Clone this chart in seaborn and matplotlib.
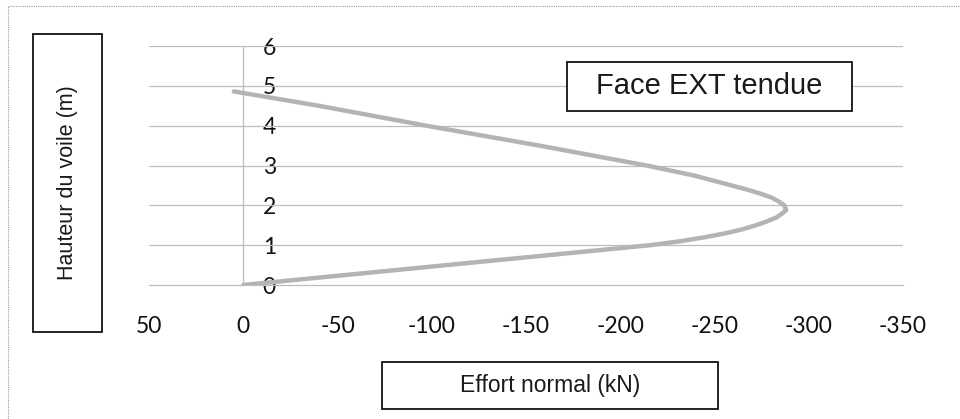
import matplotlib
matplotlib.use("Agg")
import matplotlib.pyplot as plt
from matplotlib.patches import Rectangle
import pandas as pd
import seaborn as sns

# Data (height in m, normal force in kN)

hauteur = [0.0, 0.25, 0.5, 0.75, 1.0, 1.1, 1.2, 1.3, 1.4, 1.5, 1.6, 1.7, 1.8,
           1.88, 2.0, 2.1, 2.2, 2.3, 2.4, 2.5, 2.75, 3.0, 3.5, 4.0, 4.5, 4.86]
effort = [0, -54, -108, -162, -216, -232, -245, -256, -265, -272, -278, -283,
          -286, -288, -287, -284, -280, -274, -267, -259, -239, -214, -157, -97,
          -40, 5]

x_ticks = [50, 0, -50, -100, -150, -200, -250, -300, -350]
y_ticks = [0, 1, 2, 3, 4, 5, 6]

legend_label = "Face EXT tendue"
x_label = "Effort normal (kN)"
y_label = "Hauteur du voile (m)"

sns.set_theme(style="white")

df = pd.DataFrame({"Effort": effort, "Hauteur": hauteur})

W, H = 960, 419
fig = plt.figure(figsize=(W / 100, H / 100), dpi=100)
ax = fig.add_axes([149 / W, 1 - 285 / H, (903 - 149) / W, (285 - 46) / H])

grid_col = "#bdbdbd"

for y in y_ticks[1:]:
    ax.axhline(y, color=grid_col, lw=0.9, zorder=1)

sns.lineplot(
    data=df, x="Effort", y="Hauteur",
    sort=False, estimator=None,
    color="#b4b4b4", lw=3.2, ax=ax, zorder=3
)
ax.lines[-1].set_solid_joinstyle("round")
ax.lines[-1].set_solid_capstyle("round")

ax.set_xlim(50, -350)
ax.set_ylim(0, 6)
ax.set_xticks(x_ticks)
ax.set_yticks(y_ticks)
ax.set_xticklabels([str(v) for v in x_ticks])
ax.set_xlabel("")
ax.set_ylabel("")

# Excel style axes: vertical axis at x = 0, labels on its right side
ax.spines["top"].set_visible(False)
ax.spines["left"].set_visible(False)
ax.spines["right"].set_position(("data", 0))
ax.spines["right"].set_color(grid_col)
ax.spines["right"].set_linewidth(0.9)
ax.spines["bottom"].set_color(grid_col)
ax.spines["bottom"].set_linewidth(0.9)
ax.yaxis.tick_right()
ax.tick_params(axis="y", length=0, pad=14, labelsize=16.5, labelcolor="#111111")
ax.tick_params(axis="x", direction="out", length=4.5, width=0.9, color=grid_col,
               pad=18, labelsize=16.5, labelcolor="#111111")
ax.patch.set_alpha(0)

for lab in ax.get_xticklabels() + ax.get_yticklabels():
    lab.set_family(["Lato", "DejaVu Sans"])

# Outer frame
fig.patches.append(Rectangle((8 / W, -0.1), 1.2, 1 - 6 / H + 0.1,
                             transform=fig.transFigure, fill=False,
                             ec="#9a9a9a", lw=0.8, ls=(0, (1, 1))))


def box_text(x0, y0, x1, y1, text, size, rot=0):
    fig.patches.append(Rectangle((x0 / W, 1 - y1 / H), (x1 - x0) / W, (y1 - y0) / H,
                                 transform=fig.transFigure, fill=True, fc="white",
                                 ec="#111111", lw=1.3, zorder=5))
    fig.text((x0 + x1) / 2 / W, 1 - (y0 + y1) / 2 / H, text, rotation=rot,
             ha="center", va="center", fontsize=size, color="#1a1a1a",
             family=["Liberation Sans", "DejaVu Sans"], zorder=6)


box_text(33, 34, 102, 332, y_label, 15.5, rot=90)
box_text(382, 362, 718, 409, x_label, 16.5)
box_text(567, 62, 852, 111, legend_label, 21)

fig.savefig("out.png", dpi=100)
